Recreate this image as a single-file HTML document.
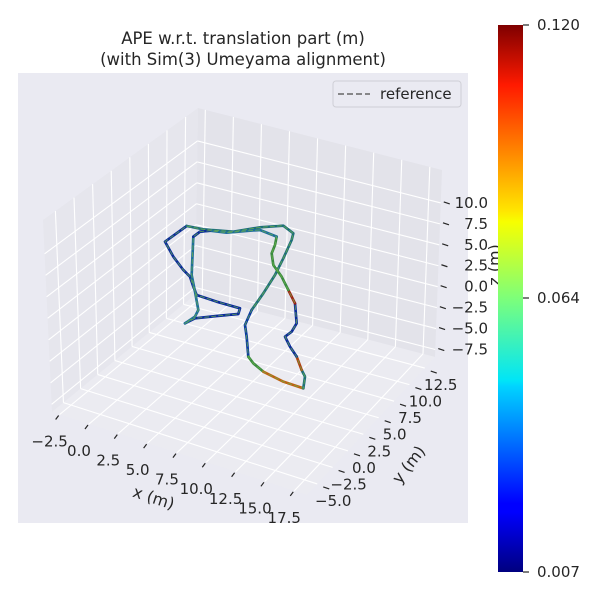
<!DOCTYPE html>
<html><head><meta charset="utf-8"><style>
html,body{margin:0;padding:0;background:#fff;}
svg{display:block;font-family:"DejaVu Sans","Liberation Sans",sans-serif;}
</style></head><body>
<svg id="s" width="600" height="600" viewBox="0 0 600 600" xmlns="http://www.w3.org/2000/svg">
<defs>
<linearGradient id="jet" x1="0" y1="1" x2="0" y2="0">
<stop offset="0" stop-color="#00007f"/>
<stop offset="0.11" stop-color="#0000ff"/>
<stop offset="0.125" stop-color="#0000ff"/>
<stop offset="0.34" stop-color="#00d4ff"/>
<stop offset="0.35" stop-color="#00e5f7"/>
<stop offset="0.5" stop-color="#7dff7a"/>
<stop offset="0.64" stop-color="#f7ff00"/>
<stop offset="0.66" stop-color="#ffe600"/>
<stop offset="0.89" stop-color="#ff1a00"/>
<stop offset="1" stop-color="#7f0000"/>
</linearGradient>
</defs>
<rect x="18" y="73" width="450" height="450" fill="#eaeaf2"/>
<g id="panes"></g>
<g id="grid" stroke="#fff" stroke-width="1.1" fill="none"></g>
<g id="ticks" stroke="#262626" stroke-width="1.2"></g>
<g id="labels" fill="#262626" font-size="15"></g>

<g transform="translate(150,210) scale(0.3333)" fill="none" stroke-linecap="round" stroke-linejoin="round">
<g stroke-width="8">
<path stroke="#0a2a9a" d="M105,340 L135,325 L200,318 L265,312 L270,295 L200,275 L140,255 L130,230 L120,200 L100,180 L70,140 L45,95 L110,48"/>
<path stroke="#1e6e7a" d="M110,48 L160,58 L250,65 L330,52 L400,47 L430,70 L425,90 L400,145 L375,195 L340,250 L305,300"/>
<path stroke="#0a3aa0" d="M305,300 L285,345 L290,380 L295,440"/>
<path stroke="#3a8a40" d="M295,440 L310,460 L340,485"/>
<path stroke="#c06010" d="M340,485 L400,515 L460,535"/>
<path stroke="#1e6e7a" d="M460,535 L465,500 L455,480"/>
<path stroke="#b04010" d="M455,480 L440,440"/>
<path stroke="#0a2a9a" d="M440,440 L420,410 L405,380 L425,365 L440,340 L435,280"/>
<path stroke="#a02010" d="M435,280 L415,240"/>
<path stroke="#3a8a40" d="M415,240 L395,200 L370,165 L365,130 L375,105 L380,80"/>
<path stroke="#1e6e9a" d="M380,80 L330,60 L300,62 L230,68 L180,62 L150,65 L130,80 L125,195 L135,245 L145,300 L135,320 L105,340"/>
<path stroke="#0a2a9a" d="M130,80 L150,65 L180,62"/>
</g>
<g stroke="#6ab04c" stroke-width="3" stroke-dasharray="12 9" opacity="0.75">
<path d="M105,340 L135,325 L200,318 L265,312 L270,295 L200,275 L140,255 L130,230 L120,200 L100,180 L70,140 L45,95 L110,48 L160,58 L250,65 L330,52 L400,47 L430,70 L425,90 L400,145 L375,195 L340,250 L305,300 L285,345 L290,380 L295,440 L310,460 L340,485 L400,515 L460,535 L465,500 L455,480 L440,440 L420,410 L405,380 L425,365 L440,340 L435,280 L415,240 L395,200 L370,165 L365,130 L375,105 L380,80 L330,60 L300,62 L230,68 L180,62 L150,65 L130,80 L125,195 L135,245 L145,300 L135,320 L105,340"/>
</g>
</g>

<text x="243" y="44" font-size="16.5" fill="#262626" text-anchor="middle">APE w.r.t. translation part (m)</text>
<text x="243" y="65" font-size="16.5" fill="#262626" text-anchor="middle">(with Sim(3) Umeyama alignment)</text>

<rect x="333" y="81" width="128" height="26" rx="3" fill="#eaeaf2" stroke="#cfcfd6" stroke-width="1"/>
<line x1="338" y1="94" x2="370" y2="94" stroke="#666" stroke-width="1.6" stroke-dasharray="6 3"/>
<text x="380" y="99" font-size="15" fill="#262626">reference</text>

<text x="152" y="503" font-size="16" fill="#262626" text-anchor="middle" transform="rotate(18 152 503)">x (m)</text>
<text x="413" y="468" font-size="16" fill="#262626" text-anchor="middle" transform="rotate(-52 413 468)">y (m)</text>
<text x="500" y="265" font-size="16" fill="#262626" text-anchor="middle" transform="rotate(-90 500 265)">z (m)</text>

<rect x="498" y="25" width="25" height="547" fill="url(#jet)"/>
<g stroke="#262626" stroke-width="1.2">
<line x1="523" y1="25" x2="529" y2="25"/><line x1="523" y1="298" x2="529" y2="298"/><line x1="523" y1="572" x2="529" y2="572"/>
</g>
<g font-size="15" fill="#262626">
<text x="537" y="30">0.120</text><text x="537" y="303">0.064</text><text x="537" y="577">0.007</text>
</g>
</svg>
<script>
var NS="http://www.w3.org/2000/svg";
function el(p,t,a,txt){var e=document.createElementNS(NS,t);for(var k in a)e.setAttribute(k,a[k]);if(txt)e.textContent=txt;document.getElementById(p).appendChild(e);return e;}
function lerp(a,b,f){return [a[0]+(b[0]-a[0])*f,a[1]+(b[1]-a[1])*f];}
var L=[52,412],F=[307,495],R=[435,357],B=[195,295],LT=[43,220],BT=[198,108],RT=[442,170];
function poly(pts){return pts.map(function(p){return p[0]+","+p[1]}).join(" ");}
el("panes","polygon",{points:poly([L,B,BT,LT]),fill:"#e6e6ed"});
el("panes","polygon",{points:poly([B,R,RT,BT]),fill:"#e3e3ea"});
el("panes","polygon",{points:poly([L,F,R,B]),fill:"#ebebf1"});
function ln(a,b){el("grid","line",{x1:a[0],y1:a[1],x2:b[0],y2:b[1]});}
var fx=[],fy=[],fz=[];
for(var i=0;i<9;i++)fx.push(0.03+0.115*i);
for(var i=0;i<8;i++)fy.push(0.08+0.12*i);
for(var i=0;i<8;i++)fz.push(0.04+0.112*i);
fx.forEach(function(f){ln(lerp(L,F,f),lerp(B,R,f));ln(lerp(B,R,f),lerp(BT,RT,f));});
fy.forEach(function(f){ln(lerp(L,B,f),lerp(F,R,f));ln(lerp(L,B,f),lerp(LT,BT,f));});
fz.forEach(function(f){ln(lerp(L,LT,f),lerp(B,BT,f));ln(lerp(B,BT,f),lerp(R,RT,f));});
var xl=["\u22122.5","0.0","2.5","5.0","7.5","10.0","12.5","15.0","17.5"];
fx.forEach(function(f,i){var p=lerp(L,F,f);el("ticks","line",{x1:p[0]-1,y1:p[1]+1,x2:p[0]-4,y2:p[1]+5});
el("labels","text",{x:p[0]-10,y:p[1]+32,"text-anchor":"middle"},xl[i]);});
var yl=["\u22125.0","\u22122.5","0.0","2.5","5.0","7.5","10.0","12.5"];
fy.forEach(function(f,i){var p=lerp(F,R,f);el("ticks","line",{x1:p[0]+6,y1:p[1]+3,x2:p[0]+12,y2:p[1]+5});
el("labels","text",{x:p[0]+16,y:p[1]+22,"text-anchor":"middle"},yl[i]);});
var zl=["\u22127.5","\u22125.0","\u22122.5","0.0","2.5","5.0","7.5","10.0"];
fz.forEach(function(f,i){var p=lerp(R,RT,f);el("ticks","line",{x1:p[0]+3,y1:p[1]-1,x2:p[0]+9,y2:p[1]+1});
el("labels","text",{x:488,y:p[1]+5,"text-anchor":"end"},zl[i]);});
</script>
</body></html>
